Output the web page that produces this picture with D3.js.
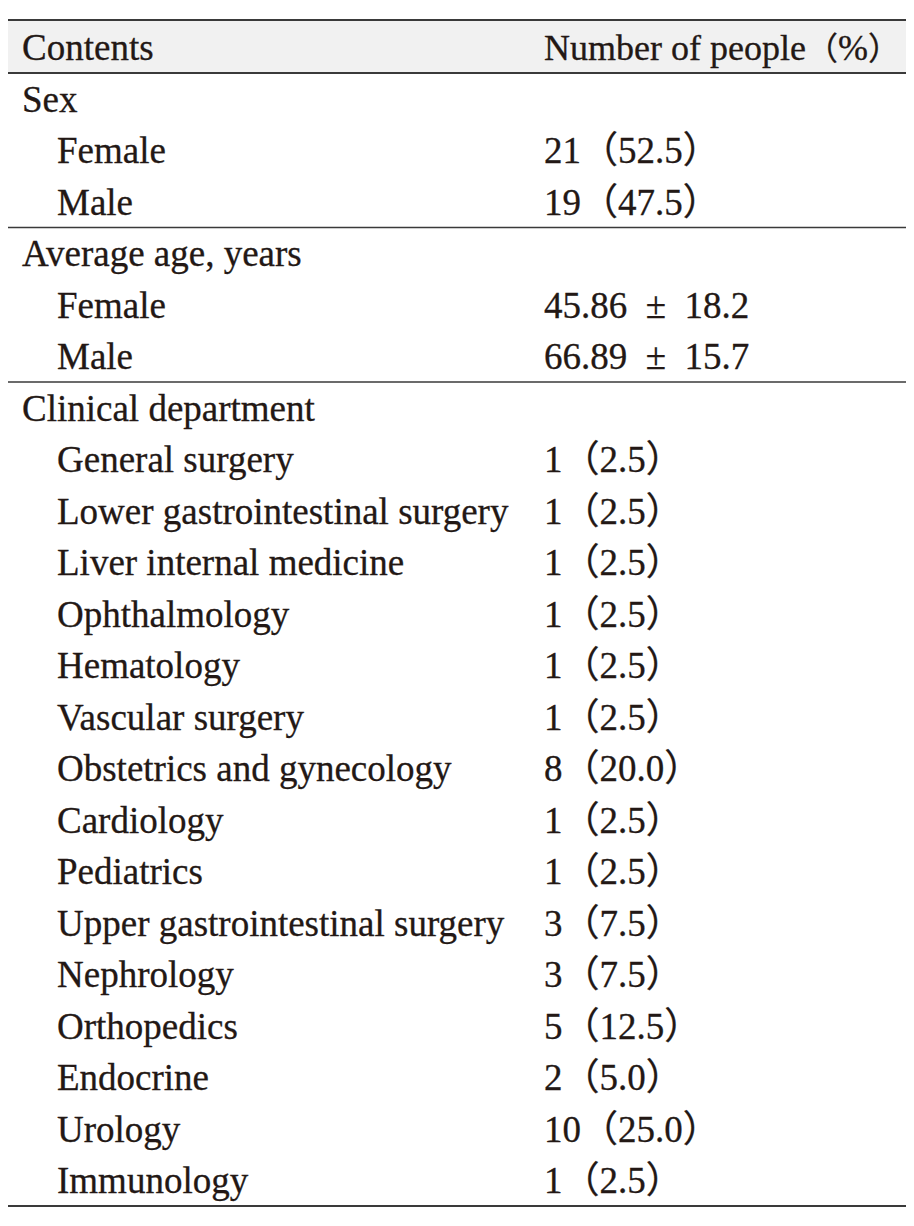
<!DOCTYPE html>
<html><head><meta charset="utf-8">
<script src="https://cdn.jsdelivr.net/npm/d3@7"></script>
<style>body{margin:0;background:#fff}</style>
</head><body>
<svg id="c" width="914" height="1226"></svg>
<script>
const headers = ["Contents", "Number of people（%）"];
const labels = ["Sex","Female","Male","Average age, years","Female","Male","Clinical department",
 "General surgery","Lower gastrointestinal surgery","Liver internal medicine","Ophthalmology","Hematology",
 "Vascular surgery","Obstetrics and gynecology","Cardiology","Pediatrics","Upper gastrointestinal surgery",
 "Nephrology","Orthopedics","Endocrine","Urology","Immunology"];
const indent = [0,1,1,0,1,1,0,1,1,1,1,1,1,1,1,1,1,1,1,1,1,1];
const values = ["","21（52.5）","19（47.5）","","45.86\u2002±\u200218.2","66.89\u2002±\u200215.7","",
 "1（2.5）","1（2.5）","1（2.5）","1（2.5）","1（2.5）","1（2.5）","8（20.0）","1（2.5）","1（2.5）",
 "3（7.5）","3（7.5）","5（12.5）","2（5.0）","10（25.0）","1（2.5）"];
const groupEnds = [2,5];

const svg = d3.select("#c");
const x0 = 8, x1 = 906, tableTop = 20, headBottom = 73, tableBottom = 1206;
const y = d3.scaleBand().domain(d3.range(labels.length)).range([headBottom, tableBottom]);
const font = "'Liberation Serif','Noto Sans CJK JP',serif";
const fs = 37;
const ink = "#231815";

svg.append("rect").attr("x",x0).attr("y",tableTop).attr("width",x1-x0).attr("height",headBottom-tableTop).attr("fill","#f1f1f1");

const hx = [22, 544];
const ht = svg.selectAll("text.h").data(headers).join("text").attr("class","h")
  .attr("x",(d,i)=>hx[i]).attr("y",(tableTop+headBottom)/2+13)
  .attr("font-family",font).attr("font-size",(d,i)=>i?36:fs).attr("fill",ink)
  .attr("stroke",ink).attr("stroke-width",0.3);
// full-width brackets drawn a little smaller so the header stays inside the table
ht.each(function(d){
  const parts = d.match(/[^（）]+|[（）]/g);
  const t = d3.select(this);
  parts.forEach(p=>{
    const s = t.append("tspan").text(p);
    if (p==="（" || p==="）") s.attr("font-size",32);
  });
});

const rows = svg.selectAll("g.r").data(labels).join("g").attr("class","r")
  .attr("transform",(d,i)=>`translate(0,${y(i)+y.bandwidth()/2+13})`);
rows.append("text").attr("x",(d,i)=>indent[i]?57:22)
  .attr("font-family",font).attr("font-size",fs).attr("fill",ink)
  .attr("stroke",ink).attr("stroke-width",0.3).text(d=>d);
rows.append("text").attr("x",544)
  .attr("font-family",font).attr("font-size",fs).attr("fill",ink)
  .attr("stroke",ink).attr("stroke-width",0.3).text((d,i)=>values[i]);

const lines = [{y:tableTop,w:2},{y:headBottom,w:2}]
  .concat(groupEnds.map(g=>({y:y(g)+y.bandwidth(),w:1.6})))
  .concat([{y:tableBottom,w:2}]);
svg.selectAll("line").data(lines).join("line")
  .attr("x1",x0).attr("x2",x1).attr("y1",d=>d.y).attr("y2",d=>d.y)
  .attr("stroke","#3a3a3a").attr("stroke-width",d=>d.w);
</script>
</body></html>
